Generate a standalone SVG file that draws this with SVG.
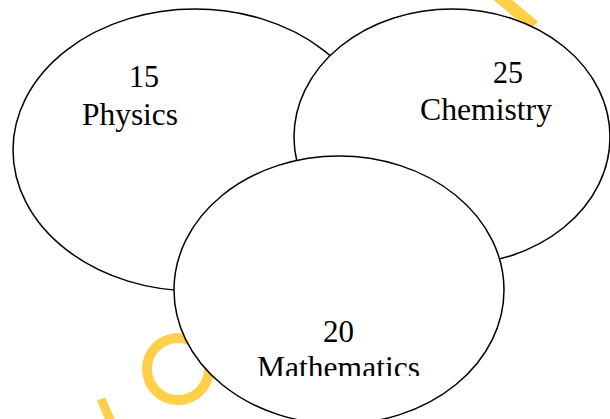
<svg xmlns="http://www.w3.org/2000/svg" width="610" height="419" viewBox="0 0 610 419">
<style>
.wm{fill:none;stroke:#FED04A;stroke-width:9}
.set{fill:#fff;stroke:#000;stroke-width:1.5}
.t{font-family:"Liberation Serif","Times New Roman",serif;font-size:30.5px;fill:#000}
</style>
<defs>
<clipPath id="mclip"><rect x="0" y="0" width="610" height="376"/></clipPath>
</defs>
<rect width="610" height="419" fill="#fff"/>
<g id="watermark">
<line class="wm" x1="498" y1="-4" x2="534" y2="26" style="stroke-width:12"/>
<ellipse class="wm" cx="178" cy="369" rx="31" ry="31" style="stroke-width:10"/>
<line class="wm" x1="101" y1="399" x2="111" y2="422"/>
</g>
<g id="physics">
<ellipse class="set" cx="195" cy="150" rx="182" ry="141"/>
<text class="t" x="129" y="87" textLength="30" lengthAdjust="spacingAndGlyphs">15</text>
<text class="t" x="82" y="125" textLength="96" lengthAdjust="spacingAndGlyphs">Physics</text>
</g>
<g id="chemistry">
<ellipse class="set" cx="452" cy="137" rx="158" ry="128"/>
<text class="t" x="493" y="83" textLength="30" lengthAdjust="spacingAndGlyphs">25</text>
<text class="t" x="420" y="120" textLength="132" lengthAdjust="spacingAndGlyphs">Chemistry</text>
</g>
<g id="mathematics">
<ellipse class="set" cx="339" cy="290" rx="165" ry="134"/>
<text class="t" x="323" y="342" textLength="31" lengthAdjust="spacingAndGlyphs">20</text>
<text class="t" x="257" y="378" textLength="163" lengthAdjust="spacingAndGlyphs" clip-path="url(#mclip)">Mathematics</text>
</g>
</svg>
